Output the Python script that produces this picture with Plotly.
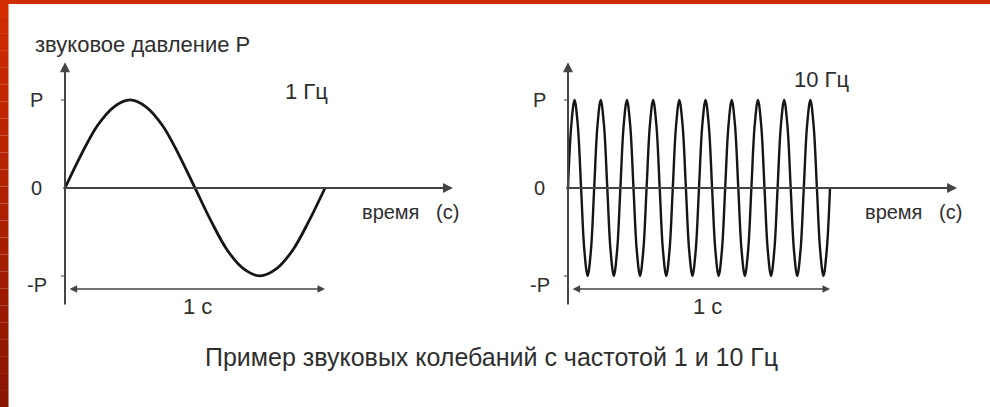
import plotly.graph_objects as go

# sound pressure in units of P
t_1hz = [0.0, 0.0625, 0.125, 0.1875, 0.25, 0.3125, 0.375, 0.4375, 0.5,
         0.5625, 0.625, 0.6875, 0.75, 0.8125, 0.875, 0.9375, 1.0]
p_1hz = [0, 0.38, 0.71, 0.92, 1, 0.92, 0.71, 0.38, 0,
         -0.38, -0.71, -0.92, -1, -0.92, -0.71, -0.38, 0]

t_10hz = [
    0.0, 0.0125, 0.025, 0.0375, 0.05, 0.0625, 0.075, 0.0875,
    0.1, 0.1125, 0.125, 0.1375, 0.15, 0.1625, 0.175, 0.1875,
    0.2, 0.2125, 0.225, 0.2375, 0.25, 0.2625, 0.275, 0.2875,
    0.3, 0.3125, 0.325, 0.3375, 0.35, 0.3625, 0.375, 0.3875,
    0.4, 0.4125, 0.425, 0.4375, 0.45, 0.4625, 0.475, 0.4875,
    0.5, 0.5125, 0.525, 0.5375, 0.55, 0.5625, 0.575, 0.5875,
    0.6, 0.6125, 0.625, 0.6375, 0.65, 0.6625, 0.675, 0.6875,
    0.7, 0.7125, 0.725, 0.7375, 0.75, 0.7625, 0.775, 0.7875,
    0.8, 0.8125, 0.825, 0.8375, 0.85, 0.8625, 0.875, 0.8875,
    0.9, 0.9125, 0.925, 0.9375, 0.95, 0.9625, 0.975, 0.9875,
    1.0,
]
p_10hz = [
    0, 0.71, 1, 0.71, 0, -0.71, -1, -0.71,
    0, 0.71, 1, 0.71, 0, -0.71, -1, -0.71,
    0, 0.71, 1, 0.71, 0, -0.71, -1, -0.71,
    0, 0.71, 1, 0.71, 0, -0.71, -1, -0.71,
    0, 0.71, 1, 0.71, 0, -0.71, -1, -0.71,
    0, 0.71, 1, 0.71, 0, -0.71, -1, -0.71,
    0, 0.71, 1, 0.71, 0, -0.71, -1, -0.71,
    0, 0.71, 1, 0.71, 0, -0.71, -1, -0.71,
    0, 0.71, 1, 0.71, 0, -0.71, -1, -0.71,
    0, 0.71, 1, 0.71, 0, -0.71, -1, -0.71,
    0,
]

p_ticks = [1, 0, -1]
p_tick_labels = ["P", "0", "-P"]
freq_labels = ["1 Гц", "10 Гц"]
y_title = "звуковое давление P"
x_title = "время\u00a0\u00a0 (с)"
span_label = "1 с"
caption = "Пример звуковых колебаний с частотой 1 и 10 Гц"

FONT = "Liberation Sans, Arial, sans-serif"
TXT = "#2e2e2e"
AXIS = "#444444"
CURVE = "#151515"

fig = go.Figure()
fig.add_trace(go.Scatter(x=t_1hz, y=p_1hz, mode="lines", xaxis="x", yaxis="y",
                         line=dict(color=CURVE, width=2.8, shape="spline"),
                         hoverinfo="skip"))
fig.add_trace(go.Scatter(x=t_10hz, y=p_10hz, mode="lines", xaxis="x2", yaxis="y",
                         line=dict(color=CURVE, width=2.4, shape="spline"),
                         hoverinfo="skip"))

annotations = []
shapes = []

def arrow(xref, x, y, ax, ay, both=False, width=2.0):
    a = dict(xref=xref, yref="y", axref=xref, ayref="y", x=x, y=y, ax=ax, ay=ay,
             text="", showarrow=True, arrowhead=2, arrowsize=1.0, arrowwidth=width,
             arrowcolor=AXIS, standoff=0, startstandoff=0)
    if both:
        a.update(arrowside="end+start", startarrowhead=2, startarrowsize=1.0)
    annotations.append(a)

def label(xref, x, y, text, size, anchor="center"):
    annotations.append(dict(xref=xref, yref="y", x=x, y=y, text=text, showarrow=False,
                            xanchor=anchor, yanchor="middle",
                            font=dict(family=FONT, size=size, color=TXT)))

panels = [
    # xref, x-axis tip, y-label x, freq label pos, time label x, span label x
    ("x", 1.492, -0.108, (0.927, 1.10), 1.327, 0.508),
    ("x2", 1.485, -0.107, (0.969, 1.227), 1.317, 0.534),
]
for i, (xr, xtip, lx, fpos, tx, sx) in enumerate(panels):
    arrow(xr, 0, 1.43, 0, -1.34)            # pressure axis
    arrow(xr, xtip, 0, -0.012, 0)           # time axis
    arrow(xr, 1.0, -1.148, 0.012, -1.148, both=True, width=1.5)  # 1 s span
    for pv in (1, -1):
        shapes.append(dict(type="line", xref=xr, yref="y", x0=-0.016, x1=0, y0=pv, y1=pv,
                           line=dict(color=AXIS, width=1)))
    for pv, txt in zip(p_ticks, p_tick_labels):
        label(xr, lx, pv if pv >= 0 else -1.10, txt, 20)
    label(xr, fpos[0], fpos[1], freq_labels[i], 22)
    label(xr, tx, -0.273, x_title, 20)
    label(xr, sx, -1.352, span_label, 22)

label("x", -0.123, 1.625, y_title, 22, anchor="left")
annotations.append(dict(xref="paper", yref="y", x=0.496, y=-1.92, text=caption,
                        showarrow=False, xanchor="center", yanchor="middle",
                        font=dict(family=FONT, size=25, color=TXT)))

# slide frame: red bar on top, darkening red bar on the left
shapes.append(dict(type="rect", xref="paper", yref="paper", x0=0, x1=1, y0=1 - 4 / 407, y1=1,
                   fillcolor="#cf2c00", line=dict(width=0), layer="above"))
n = 24
top_c, bot_c = (0xd2, 0x2c, 0x00), (0x8a, 0x16, 0x00)
for k in range(n):
    f = k / (n - 1)
    c = tuple(int(top_c[j] + (bot_c[j] - top_c[j]) * f) for j in range(3))
    shapes.append(dict(type="rect", xref="paper", yref="paper", x0=0, x1=8.5 / 990,
                       y0=1 - (k + 1) / n, y1=1 - k / n,
                       fillcolor="rgb(%d,%d,%d)" % c, line=dict(width=0), layer="above"))

fig.update_layout(
    width=990, height=407,
    margin=dict(l=0, r=0, t=0, b=0),
    paper_bgcolor="white", plot_bgcolor="white",
    showlegend=False,
    xaxis=dict(range=[-0.25, 3.5577], visible=False, fixedrange=True),
    xaxis2=dict(range=[-2.1679, 1.6107], visible=False, fixedrange=True,
                overlaying="x"),
    yaxis=dict(range=[-2.489, 2.136], visible=False, fixedrange=True),
    annotations=annotations,
    shapes=shapes,
)

fig.write_html("out.html", config={"displayModeBar": False},
               post_script="document.body.style.margin='0';")
